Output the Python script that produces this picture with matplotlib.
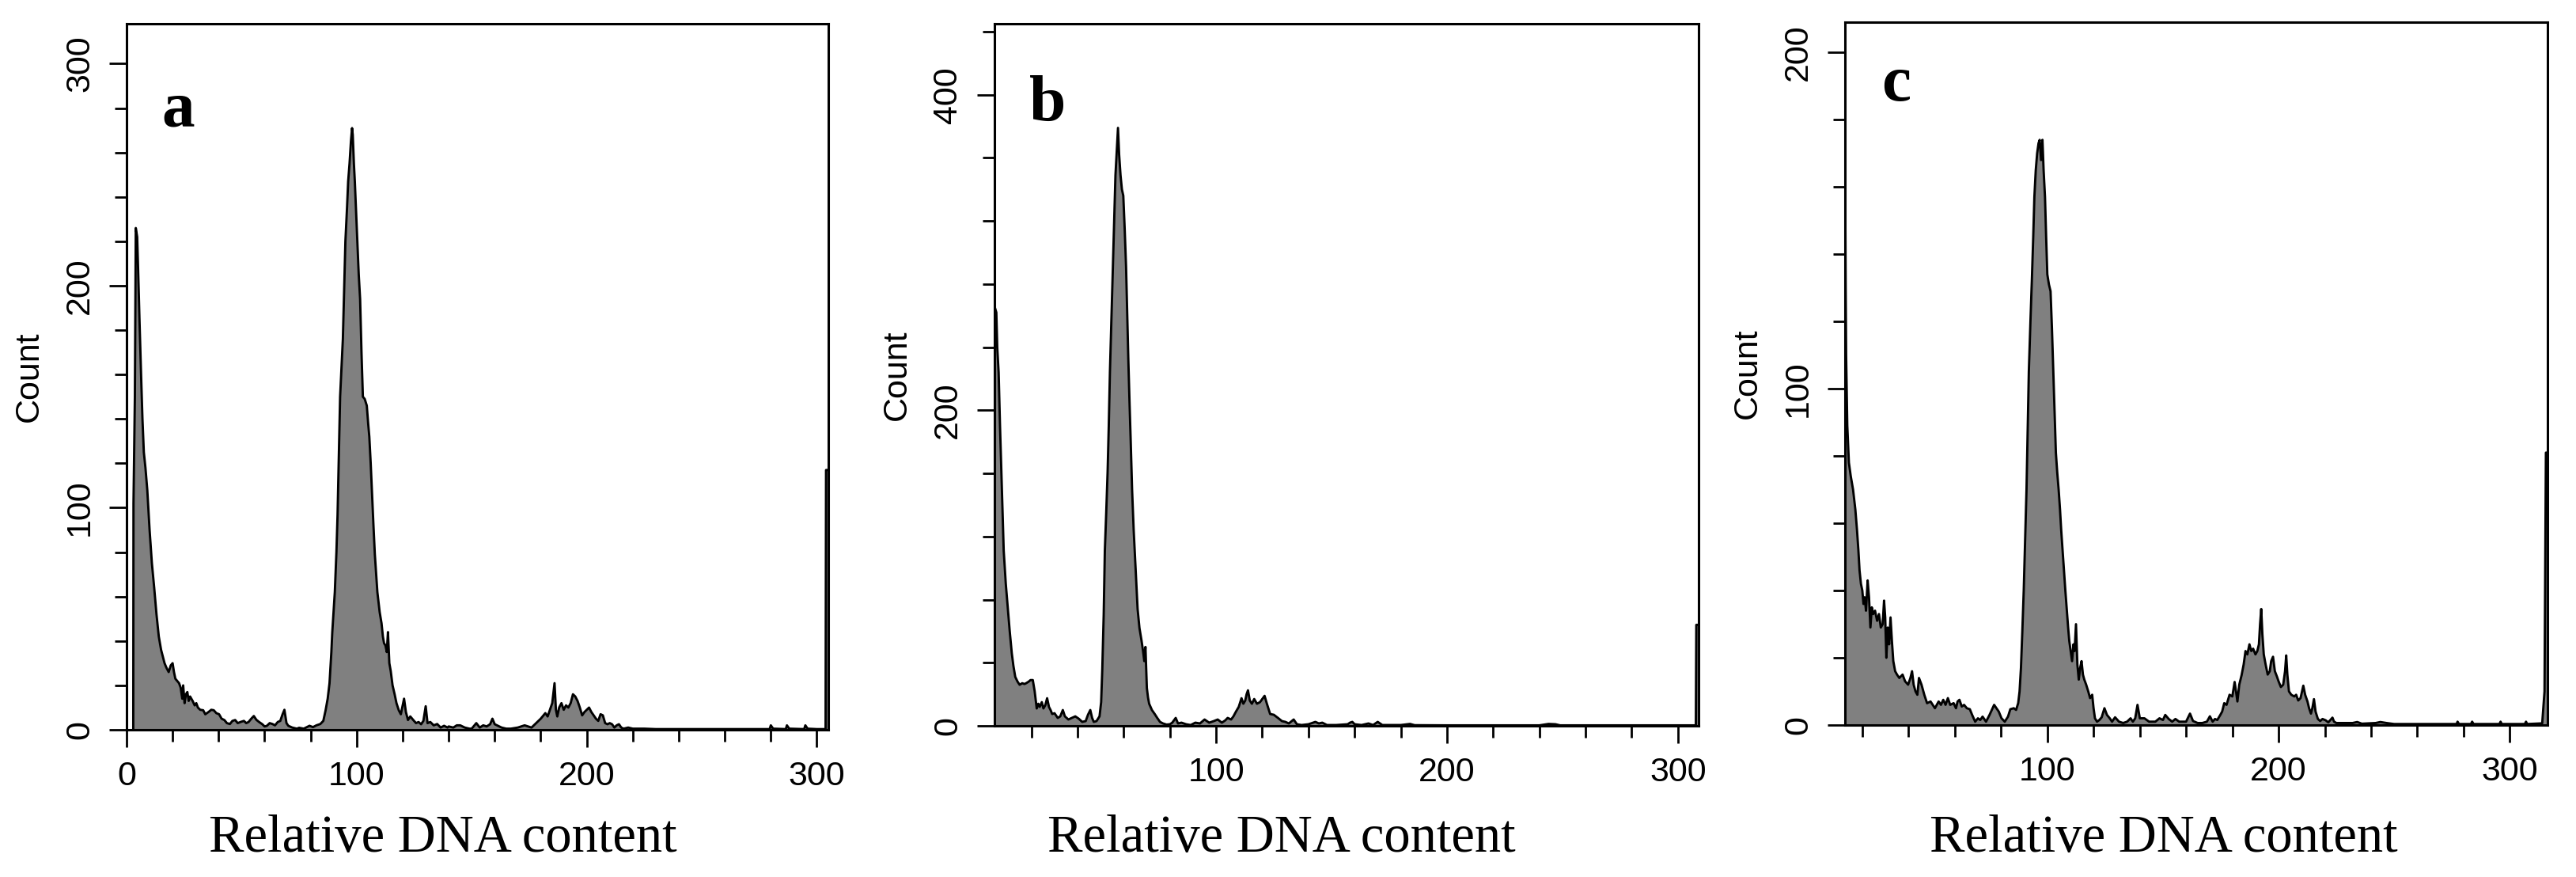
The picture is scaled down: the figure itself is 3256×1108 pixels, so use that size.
import matplotlib.pyplot as plt
from matplotlib.ticker import MultipleLocator, FixedLocator

# ---- panel a : channel / count ----
a_x = [2.9, 3.0, 3.6, 4.0, 4.6, 5.0, 5.6, 6.3, 6.9, 7.5, 8.2, 9.0, 10.0, 11.0, 12.0, 13.0, 14.0,
       15.0, 16.5, 17.3, 18.3, 19.2, 20.0, 20.6, 21.2, 22.0, 22.8, 23.5, 24.2, 24.6,
       25.2, 25.8, 26.4, 27.0, 27.6, 28.7, 29.6, 30.3, 31.0, 32.0, 33.3, 34.2, 35.6, 36.8, 37.9, 39.0, 40.2,
       41.3, 42.5, 43.6, 44.9, 46.0, 47.2, 48.3, 49.5, 51.0, 52.0, 53.0, 54.2, 55.3, 56.4, 57.6, 59.0, 60.0,
       61.0, 62.2, 63.4, 64.5, 65.7, 66.8, 67.8, 68.6, 69.5, 70.3, 72.0, 74.0, 75.0, 77.0, 79.5, 81.0, 82.5,
       84.2, 85.5, 86.5, 87.4, 88.2, 89.0, 89.4, 90.5, 91.2, 91.7, 92.3, 92.8, 94.0, 94.6, 95.1, 95.8, 96.3,
       96.9, 97.5, 98.0, 98.3, 98.8, 99.2, 99.8, 100.3, 100.9, 101.5, 102.1, 102.7, 103.5, 104.4, 105.0,
       105.5, 106.1, 106.7, 107.3, 107.9, 108.5, 109.0, 110.0, 110.8, 111.4, 111.9, 112.5, 113.1, 113.6,
       114.2, 114.8, 115.6, 116.5, 117.3, 118.3, 119.2, 119.8, 120.6, 121.4, 122.3, 123.3, 124.6, 125.8,
       126.9, 128.0, 129.0, 130.0, 130.8, 132.0, 133.5, 135.0, 136.5, 138.0, 139.5, 140.0, 142.0, 143.5,
       145.0, 147.0, 149.0, 150.0, 152.0, 153.5, 155.0, 156.5, 158.0, 159.0, 160.0, 161.0, 163.0, 165.0,
       167.0, 170.0, 173.0, 176.0, 178.0, 180.0, 182.0, 183.0, 184.0, 185.0, 186.0, 186.6, 187.2, 188.0,
       189.0, 190.0, 191.0, 192.0, 193.0, 194.0, 195.0, 196.0, 197.0, 198.0, 199.0, 200.0, 201.0, 202.0,
       203.0, 204.0, 205.0, 206.0, 207.0, 208.0, 209.0, 210.0, 211.0, 212.0, 213.0, 214.0, 215.0, 216.0,
       218.0, 220.0, 225.0, 230.0, 240.0, 250.0, 260.0, 270.0, 279.5, 280.0, 281.0, 286.5, 287.0, 288.0,
       294.5, 295.0, 296.0, 300.0, 303.8, 304.0, 305.0]
a_y = [0, 102, 150, 226, 222, 208, 185, 160, 140, 125, 118, 108, 90, 75, 64, 52, 42,
       36, 30, 28, 26, 29, 30, 26, 23, 22, 21, 19, 14, 20,
       12, 16, 17, 13, 15, 13, 11, 12, 10, 9, 8.8, 7, 8, 9, 8.8, 7.5, 7,
       5, 4.4, 3, 2.6, 4, 4.4, 3, 3.5, 4, 3, 3.5, 5, 6.2, 4.5, 3.5, 2.5, 1.5,
       1.8, 3, 2.6, 2, 3.5, 4, 7, 9, 3, 1.8, 1, 0.5, 0.9, 0.5, 1.8, 1.2, 2,
       2.6, 4, 8.8, 14, 21, 35, 44, 62, 80, 97, 125, 150, 176, 200, 220, 235, 247,
       255, 265, 271, 268, 255, 247, 232, 220, 205, 194, 170, 150, 149, 146, 138,
       132, 120, 106, 92, 79, 70, 62, 53, 48, 42, 39, 38, 35, 44,
       30, 26.5, 20, 16, 12, 8.8, 7, 10, 14, 8, 4.4, 6, 4.4, 3,
       3.5, 2.5, 4, 10.6, 3, 3.5, 2, 2.6, 1, 1.8, 1, 1.5, 1, 2,
       2, 1, 0.5, 0.5, 3, 1, 2, 1.5, 2.5, 5, 2.5, 2, 1, 0.5,
       0.5, 1, 2, 1, 3, 5, 7.5, 6, 9, 12, 21, 9, 6, 10,
       12, 9, 11, 10, 12, 16, 15, 13, 10, 6.5, 8, 9, 10, 8,
       6.5, 5, 4, 7, 6.5, 3, 2.5, 3, 2.5, 1, 2, 2.5, 1, 0.5,
       1, 0.5, 0.5, 0.3, 0.3, 0.3, 0.3, 0.3, 0.3, 2, 0.5, 0.3, 2, 0.5,
       0.3, 2, 0.5, 0.3, 0.3, 117, 117]

# ---- panel b ----
b_x = [4.0, 4.8, 5.2, 5.8, 6.4, 7.0, 7.5, 8.0, 8.9, 9.8, 10.6, 11.5, 12.2, 13.0, 14.0, 14.9, 16.0, 17.0,
       17.7, 18.8, 19.6, 20.6, 21.4, 22.3, 23.0, 23.6, 24.5, 25.2, 26.0, 26.8, 27.6, 28.3, 29.0, 30.0,
       31.4, 32.5, 33.6, 34.5, 36.0, 37.5, 39.0, 40.5, 42.0, 43.5, 44.5, 45.5, 46.3, 47.0, 48.2, 49.5,
       50.2, 50.7, 51.3, 51.8, 52.4, 53.0, 53.5, 54.0, 54.6, 55.2, 55.8, 56.4, 57.0, 57.5, 58.0, 58.6,
       59.2, 59.8, 60.4, 61.0, 61.5, 62.0, 62.5, 63.0, 63.6, 64.3, 65.1, 66.0, 66.8, 67.7, 68.3, 68.9,
       69.4, 70.0, 70.5, 71.0, 72.2, 73.4, 74.5, 75.7, 77.0, 78.5, 80.0, 81.0, 82.5, 83.5, 85.0, 87.0,
       89.0, 91.0, 93.0, 95.0, 97.0, 99.0, 100.7, 102.5, 104.0, 105.0, 106.5, 107.5, 108.6, 109.8, 111.0,
       111.8, 112.6, 113.2, 113.8, 114.6, 115.5, 116.5, 117.7, 119.0, 120.0, 121.0, 122.0, 123.4, 125.0,
       126.8, 128.5, 130.0, 131.5, 133.6, 135.0, 137.0, 140.0, 142.0, 143.0, 144.5, 146.0, 148.0, 152.0,
       157.0, 158.0, 159.0, 160.0, 163.0, 166.0, 168.0, 170.0, 172.0, 180.0, 184.0, 186.0, 200.0, 240.0,
       244.0, 247.0, 249.0, 280.0, 307.8, 308.0, 309.0]
b_y = [266, 262, 240, 224, 190, 161, 135, 111, 90, 74, 60, 46, 38, 31, 28, 26, 27, 26.5,
       27, 28, 29, 29, 22, 11, 14, 12, 15, 11, 13, 17.5, 12, 10, 7.5, 8,
       5, 6, 10, 6, 4, 5, 6, 4.5, 2.5, 3, 7, 10, 5, 2.5, 3, 6,
       15, 36, 70, 111, 135, 161, 190, 224, 255, 286, 318, 349, 365, 379, 362, 349,
       340, 336, 315, 291, 260, 231, 205, 181, 150, 124, 100, 74, 62, 54, 48, 41,
       50, 24, 18, 14, 10, 7.5, 5, 2.5, 1.5, 0.8, 1, 2, 5, 1.5, 2, 1,
       0.5, 2, 1.5, 4, 2, 3, 4, 2, 3.5, 5, 4, 6, 9, 12, 17.5,
       14, 16, 20, 22.5, 16, 14, 17, 14, 15, 17, 19, 14, 7.5, 7,
       5, 3, 2.5, 1.5, 4, 1, 0.5, 1, 2, 2.5, 1.5, 2, 0.5, 0.5,
       1, 2, 2.5, 1, 0.5, 1.5, 0.5, 2.5, 0.5, 0.5, 1.2, 0.4, 0.3, 0.3,
       1.2, 1, 0.3, 0.3, 0.3, 64, 64]

# ---- panel c ----
c_x = [12.5, 12.8, 13.0, 13.5, 14.2, 15.0, 16.0, 17.0, 17.7, 18.3, 18.8, 19.4, 20.0, 20.5, 21.0, 21.6,
       22.3, 22.9, 23.5, 24.1, 24.7, 25.5, 26.4, 27.2, 28.0, 28.8, 29.4, 29.9, 30.4, 31.0, 31.6, 32.2,
       32.8, 33.4, 34.2, 35.0, 36.0, 37.4, 38.5, 39.8, 40.8, 41.5, 42.2, 43.0, 43.8, 44.5, 45.6, 46.8,
       48.0, 49.5, 51.4, 53.0, 54.0, 55.0, 56.0, 57.0, 58.0, 59.5, 60.5, 61.2, 62.0, 63.0, 64.0, 65.2,
       66.5, 67.5, 68.8, 70.0, 71.0, 72.0, 73.5, 75.0, 76.0, 77.0, 78.0, 79.0, 80.2, 81.6, 83.0, 84.0,
       85.5, 86.5, 87.4, 88.0, 88.6, 89.2, 89.8, 90.4, 91.0, 91.5, 92.0, 92.7, 93.3, 93.9, 94.4, 95.0,
       95.6, 96.2, 96.7, 97.3, 97.9, 98.4, 99.0, 99.5, 100.0, 100.7, 101.4, 102.0, 102.6, 103.2, 103.7,
       104.3, 104.9, 105.5, 106.0, 106.6, 107.2, 107.8, 108.4, 109.0, 109.5, 110.1, 110.7, 111.3, 111.8,
       112.4, 113.0, 113.6, 114.2, 114.8, 115.4, 116.0, 116.8, 117.7, 118.5, 119.4, 120.0, 120.6, 121.5,
       122.5, 123.5, 124.7, 125.8, 127.0, 128.0, 129.3, 131.0, 132.8, 134.5, 136.0, 137.0, 138.0, 139.0,
       140.0, 142.0, 144.0, 146.7, 148.5, 150.0, 151.0, 152.5, 154.0, 155.4, 157.0, 160.0, 161.7, 163.0,
       165.0, 167.0, 169.0, 170.3, 171.5, 172.5, 173.5, 174.8, 175.6, 176.5, 177.5, 178.8, 180.0, 181.0,
       181.6, 182.2, 183.0, 184.0, 184.9, 185.7, 186.5, 187.4, 188.2, 189.0, 190.0, 190.8, 191.5, 192.0,
       192.5, 193.0, 193.6, 194.4, 195.3, 196.2, 196.8, 197.6, 198.4, 199.3, 200.0, 201.0, 202.0, 202.8,
       203.3, 203.8, 204.5, 205.5, 206.8, 207.6, 208.5, 209.5, 210.7, 211.5, 212.5, 213.2, 214.0, 214.6,
       215.3, 216.0, 217.0, 218.0, 219.0, 220.4, 221.5, 223.3, 224.0, 225.0, 228.4, 232.0, 234.0, 236.0,
       242.0, 244.0, 246.7, 250.0, 277.0, 277.4, 278.0, 283.2, 283.7, 284.3, 295.5, 296.0, 296.5, 306.5,
       307.0, 307.5, 314.0, 315.0, 315.6, 316.3]
c_y = [175, 130, 110, 89, 78, 74, 70, 64, 58, 52, 46, 42, 40, 36, 38, 34,
       43, 38, 29, 35, 33, 34, 31, 33, 29, 30, 37, 32, 20, 29, 24, 32,
       25, 19, 16, 15, 14, 15, 13, 12, 14, 16, 12, 10, 9, 14, 12, 9,
       6.5, 7, 5, 7, 6, 7.5, 6, 8, 6, 6.5, 5, 7, 7.5, 5.5, 6, 5,
       4.7, 3, 1, 2, 1.5, 2.5, 1, 3, 4.5, 6, 5, 4, 2, 1, 2.5, 4.7,
       5, 4.5, 6.5, 10, 17, 28, 40, 55, 70, 88, 105, 120, 132, 145, 157, 165,
       170, 173, 174, 168, 174, 165, 157, 145, 134, 131, 129, 118, 105, 92, 81,
       75, 70, 64, 58, 52, 46, 40, 34.5, 29, 25, 22, 19, 24, 22,
       30, 18, 13.5, 17, 19, 15, 13.5, 12, 10, 8, 9, 5, 2, 1,
       1.5, 2.3, 5, 3, 2, 1, 2.3, 1, 0.6, 1, 2, 1, 2, 6,
       2, 2, 1, 1, 2, 1.5, 3, 1.8, 1, 1.8, 1, 1, 3.4, 1.2,
       0.6, 0.6, 1, 2.6, 1, 1.8, 1.5, 3, 4, 6.5, 6, 9, 8.5, 12.8,
       10, 7, 12, 14.8, 18, 22, 21, 24, 22, 22.7, 21, 22, 24, 30,
       34.5, 27, 21, 18, 15, 16, 19, 20.3, 16, 14.4, 13, 11.3, 12, 16,
       20.7, 15, 10, 9, 8.5, 9, 7.3, 8, 11.7, 9, 7, 5, 3.4, 5,
       7.7, 4, 1.8, 1.2, 1.8, 1.4, 0.8, 2.2, 1, 0.6, 0.6, 0.6, 0.9, 0.4,
       0.6, 0.9, 0.6, 0.3, 0.3, 1, 0.3, 0.3, 1, 0.3, 0.3, 1, 0.3, 0.3,
       1, 0.3, 0.5, 10, 81, 81]

panel_labels = ["a", "b", "c"]
x_label = "Relative DNA content"
y_label = "Count"

W, H = 3256, 1108
fig = plt.figure(figsize=(W / 100, H / 100), dpi=100)

# axes boxes in pixels: left, right, top, bottom
boxes = [(160, 1047, 30, 922), (1257, 2147, 30, 917), (2332, 3220, 28, 916)]
xlims = [(0, 305), (4, 309), (12.5, 316.3)]
ylims = [(0, 318), (0, 445), (0, 209)]
ymajor = [100, 200, 100]
yminor = [20, 40, 20]
xmajor = [[0, 100, 200, 300], [100, 200, 300], [100, 200, 300]]
letter_pos = [(204, 159), (1301, 152), (2378, 127)]
xlabel_cx = [560, 1620, 2735]

tick_font = "Liberation Sans"
serif = "Liberation Serif"

for i, (xs, ys) in enumerate([(a_x, a_y), (b_x, b_y), (c_x, c_y)]):
    l, r, t, b = boxes[i]
    ax = fig.add_axes([l / W, (H - b) / H, (r - l) / W, (b - t) / H])
    ax.fill_between(xs, ys, 0, color="#808080", lw=0)
    ax.plot(xs, ys, color="black", lw=2.1)
    ax.set_xlim(*xlims[i])
    ax.set_ylim(*ylims[i])

    ax.xaxis.set_major_locator(FixedLocator(xmajor[i]))
    ax.xaxis.set_minor_locator(MultipleLocator(20))
    ax.yaxis.set_major_locator(MultipleLocator(ymajor[i]))
    ax.yaxis.set_minor_locator(MultipleLocator(yminor[i]))
    ax.tick_params(which="major", direction="out", length=16, width=2, pad=12,
                   labelsize=31, colors="black")
    ax.tick_params(which="minor", direction="out", length=11, width=2)
    ax.tick_params(axis="y", labelrotation=90)
    for lbl in ax.get_xticklabels() + ax.get_yticklabels():
        lbl.set_fontfamily(tick_font)
    for lbl in ax.get_yticklabels():
        lbl.set_va("center")
    for sp in ax.spines.values():
        sp.set_linewidth(2.2)

    ax.set_ylabel(y_label, fontsize=31, fontfamily=tick_font)
    ax.yaxis.set_label_coords(-103 / (r - l), 0.5)

    fig.text(letter_pos[i][0] / W, 1 - letter_pos[i][1] / H, panel_labels[i],
             fontsize=60, fontweight="bold", fontfamily=serif, va="baseline", ha="left")
    fig.text(xlabel_cx[i] / W, 1 - 1076 / H, x_label, fontsize=48, fontfamily=serif,
             ha="center", va="baseline")

fig.savefig("out.png", dpi=100, facecolor="white")
